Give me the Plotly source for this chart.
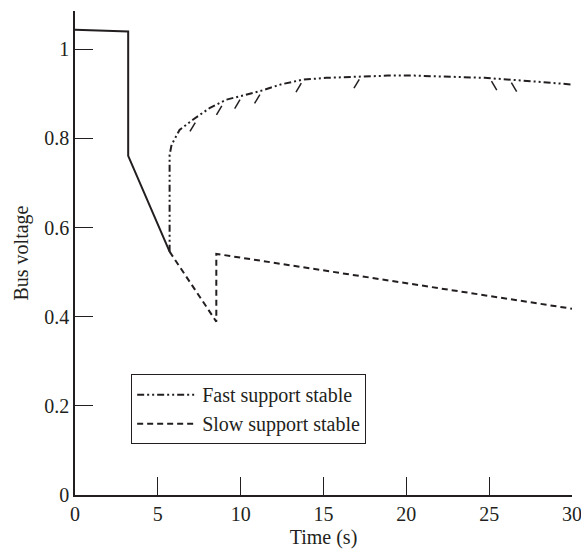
import numpy as np
import plotly.graph_objects as go

# Pre-fault and fault trajectory (common to both cases)
pre_t = [0.0, 3.21, 3.21, 5.71]
pre_v = [1.044, 1.040, 0.761, 0.546]

# Fast support: voltage recovers after the support action at ~5.7 s
fast_t = [5.71, 5.71, 5.83, 6.31, 7.11, 8.12, 9.13, 10.34, 11.14, 12.5,
          13.76, 15.17, 17.18, 18.89, 20.5, 22.72, 24.73, 27.0, 30.0]
fast_v = [0.546, 0.763, 0.786, 0.819, 0.842, 0.868, 0.887, 0.898, 0.906, 0.922,
          0.932, 0.936, 0.939, 0.941, 0.941, 0.938, 0.936, 0.930, 0.921]

# Slow support: voltage keeps collapsing until ~8.5 s, then partial recovery
slow_t = [5.71, 8.53, 8.53, 30.0]
slow_v = [0.546, 0.389, 0.541, 0.418]

# Small hatch strokes drawn just under the fast-support curve
hatch_t = [7.1, 8.7, 9.8, 11.0, 13.5, 17.0, 25.3, 26.5]
hatch_lean = [1, 1, 1, 1, 1, 1, -1, -1]

x_ticks = [0, 5, 10, 15, 20, 25, 30]
y_ticks = [0, 0.2, 0.4, 0.6, 0.8, 1.0]
y_labels = ["0", "0.2", "0.4", "0.6", "0.8", "1"]

FONT = "Liberation Serif"
INK = "#231f20"

hx, hy = [], []
for t, lean in zip(hatch_t, hatch_lean):
    v = float(np.interp(t, fast_t[1:], fast_v[1:]))
    hx += [t + lean * 0.16, t - lean * 0.16, None]
    hy += [v - 0.006, v - 0.026, None]

fig = go.Figure()
fig.add_trace(go.Scatter(x=pre_t, y=pre_v, mode="lines", showlegend=False,
                         line=dict(color=INK, width=2)))
fig.add_trace(go.Scatter(x=fast_t, y=fast_v, mode="lines", name="Fast support stable",
                         line=dict(color=INK, width=2,
                                   dash="7px,3px,2px,3px,2px,3px")))
fig.add_trace(go.Scatter(x=slow_t, y=slow_v, mode="lines", name="Slow support stable",
                         line=dict(color=INK, width=2, dash="6px,4px")))
fig.add_trace(go.Scatter(x=hx, y=hy, mode="lines", showlegend=False,
                         line=dict(color=INK, width=1.5)))

axis_common = dict(
    showline=True, linecolor=INK, linewidth=1.5,
    ticks="inside", ticklen=18, tickwidth=1.3, tickcolor=INK,
    showgrid=False, zeroline=False, ticklabeloverflow="allow",
    automargin=False,
    tickfont=dict(family=FONT, size=20, color=INK),
)

fig.update_layout(
    width=581, height=552,
    margin=dict(l=75, r=9, t=11, b=57, autoexpand=False),
    paper_bgcolor="white", plot_bgcolor="white",
    font=dict(family=FONT, size=20, color=INK),
    xaxis=dict(range=[0, 30], tickvals=x_ticks,
               title=dict(text="Time (s)", font=dict(family=FONT, size=20, color=INK),
                          standoff=6),
               **axis_common),
    yaxis=dict(range=[0, 1.086], tickvals=y_ticks, ticktext=y_labels,
               title=dict(text="Bus voltage", font=dict(family=FONT, size=20, color=INK),
                          standoff=10),
               **axis_common),
    legend=dict(x=0.113, y=0.2497, xanchor="left", yanchor="top",
                bordercolor=INK, borderwidth=1, bgcolor="white",
                itemwidth=60, tracegroupgap=0,
                font=dict(family=FONT, size=20, color=INK)),
)

fig.write_html("out.html")
